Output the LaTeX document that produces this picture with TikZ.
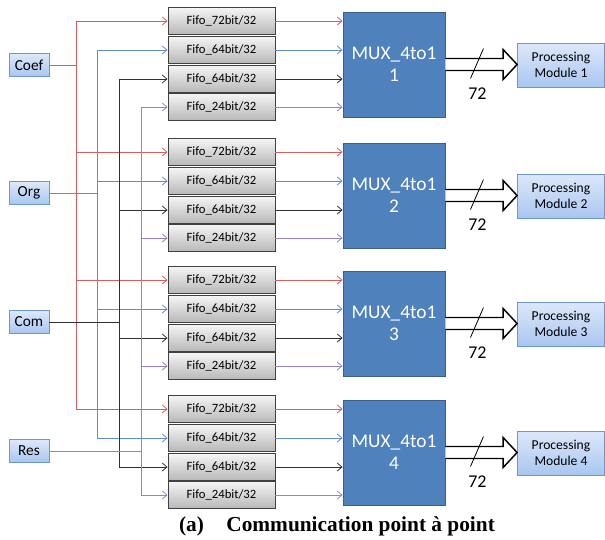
\documentclass[tikz,border=0pt]{standalone}
\usepackage{fontspec}
\setmainfont{Carlito}
\newfontfamily\capfont{Liberation Serif}
\usetikzlibrary{arrows.meta,calc}
\definecolor{cred}{HTML}{D45F5C}
\definecolor{cblue}{HTML}{5F8DD0}
\definecolor{cblack}{HTML}{303030}
\definecolor{cpurple}{HTML}{9A82C2}
\definecolor{muxfill}{HTML}{4F81BD}
\definecolor{muxdraw}{HTML}{3A5F8C}
\definecolor{lbtop}{HTML}{DDE8FA}
\definecolor{lbbot}{HTML}{A9C6F0}
\definecolor{lbdraw}{HTML}{6C97D4}
\begin{document}
\begin{tikzpicture}[x=0.75pt,y=-0.75pt,
  fifobox/.style={draw=black!75, top color=black!4, bottom color=black!28, line width=0.7pt,
    minimum width=80.25pt, minimum height=20.25pt, inner sep=0pt, font=\fontsize{9.5}{11}\selectfont},
  srcbox/.style={draw=lbdraw, top color=lbtop, bottom color=lbbot, line width=0.6pt,
    minimum width=30pt, minimum height=17.25pt, inner sep=0pt, font=\fontsize{11.5}{13}\selectfont},
  pmbox/.style={draw=lbdraw, top color=lbtop, bottom color=lbbot, line width=0.6pt,
    minimum width=65.25pt, minimum height=33pt, inner sep=0pt, align=center, font=\fontsize{10.2}{12.2}\selectfont},
  muxbox/.style={draw=muxdraw, fill=muxfill, line width=0.7pt, text=white,
    minimum width=76.5pt, minimum height=78.75pt, inner sep=0pt, align=center, font=\fontsize{14.5}{16.5}\selectfont},
  wire/.style={line width=0.6pt},
  tip/.style={-{Straight Barb[length=3.5pt,width=6pt]}},
  fat/.style={draw=black, fill=white, line width=1.1pt, line join=miter},
  lab/.style={font=\fontsize{13.5}{15}\selectfont}
]
\useasboundingbox (0,0) rectangle (605,539);

% source boxes
\node[srcbox] (coef) at (29,65) {Coef};
\node[srcbox] (org) at (29,193) {Org};
\node[srcbox] (com) at (29,322) {Com};
\node[srcbox] (res) at (29,451) {Res};

% bus x positions
\coordinate (rb) at (76,0);
\coordinate (bb) at (97,0);
\coordinate (kb) at (119,0);
\coordinate (pb) at (141,0);

\foreach \g/\yb in {1/21,2/152,3/280,4/409}{
  \node[fifobox] (f\g-1) at (221.5,\yb) {Fifo\_72bit/32};
  \node[fifobox] (f\g-2) at (221.5,\yb+29) {Fifo\_64bit/32};
  \node[fifobox] (f\g-3) at (221.5,\yb+58) {Fifo\_64bit/32};
  \node[fifobox] (f\g-4) at (221.5,\yb+86) {Fifo\_24bit/32};
  \node[muxbox] (m\g) at (394,\yb+43.5) {MUX\_4to1\\\g};
  \node[pmbox] (pm\g) at (561,\yb+44) {Processing\\Module \g};
  % fifo -> mux
  \draw[wire,tip,cred] (f\g-1.east) -- (f\g-1.east -| m\g.west);
  \draw[wire,tip,cblue] (f\g-2.east) -- (f\g-2.east -| m\g.west);
  \draw[wire,tip,cblack] (f\g-3.east) -- (f\g-3.east -| m\g.west);
  \draw[wire,tip,cpurple] (f\g-4.east) -- (f\g-4.east -| m\g.west);
  % bus -> fifo
  \draw[wire,tip,cred] (f\g-1.west -| rb) -- (f\g-1.west);
  \draw[wire,tip,cblue] (f\g-2.west -| bb) -- (f\g-2.west);
  \draw[wire,tip,cblack] (f\g-3.west -| kb) -- (f\g-3.west);
  \draw[wire,tip,cpurple] (f\g-4.west -| pb) -- (f\g-4.west);
  % fat arrow mux -> module
  \draw[fat] ($(m\g.east)+(0,-6)$) -- ($(m\g.east -| pm\g.west)+(-14,-6)$)
    -- ($(m\g.east -| pm\g.west)+(-14,-15)$) -- (m\g.east -| pm\g.west)
    -- ($(m\g.east -| pm\g.west)+(-14,15)$) -- ($(m\g.east -| pm\g.west)+(-14,6)$)
    -- ($(m\g.east)+(0,6)$);
  \draw[line width=0.6pt] ($(m\g.east)+(38,-16)$) -- ($(m\g.east)+(25,14)$);
  \node[lab] (w\g) at ($(m\g.east)+(32,29)$) {72};
}

% buses
\draw[wire,cred] (f1-1.west -| rb) -- (f4-1.west -| rb);
\draw[wire,cblue] (f1-2.west -| bb) -- (f4-2.west -| bb);
\draw[wire,cblack] (f1-3.west -| kb) -- (f4-3.west -| kb);
\draw[wire,cpurple] (f1-4.west -| pb) -- (f4-4.west -| pb);
\draw[wire,cred] (coef.east) -- (coef.east -| rb);
\draw[wire,cblue] (org.east) -- (org.east -| bb);
\draw[wire,cblack] (com.east) -- (com.east -| kb);
\draw[wire,cpurple] (res.east) -- (res.east -| pb);

\node[font=\capfont\bfseries\fontsize{16}{18}\selectfont] (cap) at (337,526) {(a)\hspace{1.05em}Communication point à point};
\end{tikzpicture}
\end{document}
